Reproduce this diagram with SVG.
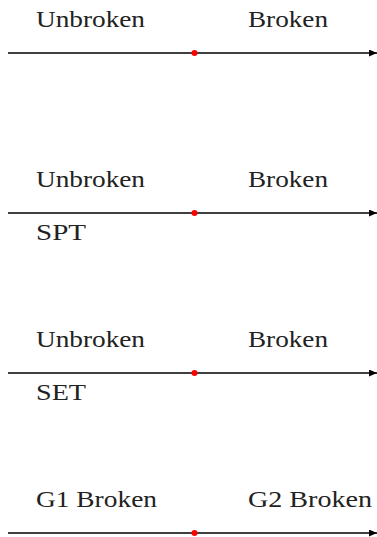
<svg xmlns="http://www.w3.org/2000/svg" width="377" height="537" viewBox="0 0 377 537">
<defs>
<marker id="arr" viewBox="0 0 10 10" refX="10" refY="5" markerWidth="8" markerHeight="7" markerUnits="userSpaceOnUse" orient="auto" preserveAspectRatio="none">
<path d="M0,0 L10,5 L0,10 z" fill="#000"/>
</marker>
</defs>
<style>
text{font-family:'Times New Roman','Tinos','Noto Serif','DejaVu Serif',serif;font-size:24px;fill:#222}
.ax{stroke:#000;stroke-width:1.4;fill:none}
.pt{fill:#ff0000}
</style>
<g id="connectors">
<line class="ax" x1="8" y1="53" x2="377" y2="53" marker-end="url(#arr)"/>
<line class="ax" x1="8" y1="213" x2="377" y2="213" marker-end="url(#arr)"/>
<line class="ax" x1="8" y1="373" x2="377" y2="373" marker-end="url(#arr)"/>
<line class="ax" x1="8" y1="533" x2="377" y2="533" marker-end="url(#arr)"/>
</g>
<g id="row1">
<circle class="pt" cx="194.5" cy="53" r="3"/>
<text x="36" y="27" textLength="109" lengthAdjust="spacingAndGlyphs">Unbroken</text>
<text x="248" y="27" textLength="80" lengthAdjust="spacingAndGlyphs">Broken</text>
</g>
<g id="row2">
<circle class="pt" cx="194.5" cy="213" r="3"/>
<text x="36" y="187" textLength="109" lengthAdjust="spacingAndGlyphs">Unbroken</text>
<text x="248" y="187" textLength="80" lengthAdjust="spacingAndGlyphs">Broken</text>
<text x="36" y="240" textLength="50" lengthAdjust="spacingAndGlyphs">SPT</text>
</g>
<g id="row3">
<circle class="pt" cx="194.5" cy="373" r="3"/>
<text x="36" y="347" textLength="109" lengthAdjust="spacingAndGlyphs">Unbroken</text>
<text x="248" y="347" textLength="80" lengthAdjust="spacingAndGlyphs">Broken</text>
<text x="36" y="400" textLength="50" lengthAdjust="spacingAndGlyphs">SET</text>
</g>
<g id="row4">
<circle class="pt" cx="194.5" cy="533" r="3"/>
<text x="36" y="507" textLength="121" lengthAdjust="spacingAndGlyphs">G1 Broken</text>
<text x="248" y="507" textLength="124" lengthAdjust="spacingAndGlyphs">G2 Broken</text>
</g>
</svg>
